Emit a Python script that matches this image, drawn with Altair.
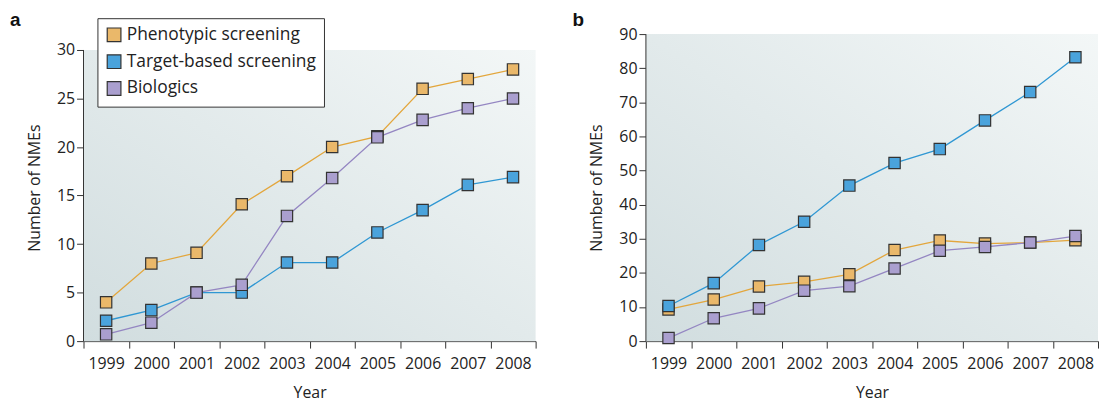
import altair as alt
import pandas as pd

years = [str(y) for y in range(1999, 2009)]
series = ["Phenotypic screening", "Target-based screening", "Biologics"]

# panel a
a_pheno = [4, 8, 9.1, 14.1, 17, 20, 21.1, 26, 27, 28]
a_target = [2.1, 3.2, 5, 5, 8.1, 8.1, 11.2, 13.5, 16.1, 16.9]
a_bio = [0.7, 1.9, 5, 5.8, 12.9, 16.8, 21, 22.8, 24, 25]

# panel b
b_pheno = [9.3, 12.2, 16, 17.4, 19.6, 26.7, 29.5, 28.6, 28.9, 29.6]
b_target = [10.3, 17, 28.2, 35, 45.6, 52.2, 56.3, 64.7, 73, 83.2]
b_bio = [0.9, 6.7, 9.6, 14.8, 16.1, 21.3, 26.5, 27.6, 28.9, 30.8]

line_colors = ["#e3a63c", "#2f97d3", "#9486c2"]
fill_colors = ["#eab86a", "#4aa3dc", "#aa9fcf"]
FONT = "Open Sans"
W, H = 455, 309


def frame(p, t, b):
    rows = []
    for name, vals in zip(series, [p, t, b]):
        for y, v in zip(years, vals):
            rows.append({"year": y, "series": name, "value": v})
    return pd.DataFrame(rows)


def panel(df, label, ytop, ymax, ystep, legend):
    xenc = alt.X("year:O", title="Year",
                 scale=alt.Scale(type="band", paddingInner=0, paddingOuter=0),
                 axis=alt.Axis(tickBand="extent", labelAngle=0, labelPadding=8, titlePadding=13))
    yscale = alt.Scale(domain=[0, ymax], nice=False)
    yaxis = alt.Axis(values=list(range(0, ytop + 1, ystep)), titlePadding=14, domain=False,
                     labelOverlap=False)
    yenc = alt.Y("value:Q", title="Number of NMEs", scale=yscale, axis=yaxis)
    base = alt.Chart(pd.DataFrame({"v": [0]}))
    bg = base.mark_rect(
        color=alt.Gradient(gradient="linear", x1=0, y1=1, x2=1, y2=0,
                           stops=[alt.GradientStop(color="#d1dddf", offset=0),
                                  alt.GradientStop(color="#f3f7f7", offset=1)])
    ).encode(x=alt.value(0), x2=alt.value(W),
             y=alt.Y(datum=ytop, scale=yscale, axis=yaxis, title="Number of NMEs"),
             y2=alt.datum(0))
    yline = base.mark_rule(color="#333", strokeWidth=1).encode(
        x=alt.value(0), y=alt.Y(datum=ytop, scale=yscale, axis=yaxis, title="Number of NMEs"),
        y2=alt.datum(0))
    tag = base.mark_text(text=label, font="Liberation Sans", fontSize=19, fontWeight="bold",
                         align="left", baseline="alphabetic", color="#111").encode(
        x=alt.value(-74), y=alt.value(-8))
    lines = alt.Chart(df).mark_line(strokeWidth=1.3).encode(
        x=xenc, y=yenc,
        color=alt.Color("series:N", scale=alt.Scale(domain=series, range=line_colors), legend=None),
        detail="series:N")
    if legend:
        leg = alt.Legend(title=None, orient="none", legendX=14, legendY=-16,
                         fillColor="white", strokeColor="#333", padding=8, labelLimit=0,
                         labelFont=FONT, labelFontSize=17.5, labelColor="#222",
                         symbolType="square", symbolSize=190, symbolStrokeColor="#333",
                         symbolStrokeWidth=1.2, rowPadding=7)
    else:
        leg = None
    sq = alt.Chart(df).mark_square(size=130, opacity=1, stroke="#333", strokeWidth=1.2).encode(
        x=xenc, y=yenc,
        fill=alt.Fill("series:N", scale=alt.Scale(domain=series, range=fill_colors),
                      **({"legend": leg} if leg else {"legend": None})))
    return alt.layer(bg, yline, tag, lines, sq).resolve_scale(color="independent").properties(
        width=W, height=H)


a = panel(frame(a_pheno, a_target, a_bio), "a", 30, 30 * H / 293, 5, True)
b = panel(frame(b_pheno, b_target, b_bio), "b", 90, 90, 10, False)

chart = alt.hconcat(a, b, spacing=36).resolve_scale(fill="independent").configure_view(
    stroke=None
).configure_axis(
    labelFont=FONT, labelFontSize=16, labelColor="#222", titleFont=FONT, titleFontSize=16,
    titleFontWeight="normal", titleColor="#222", domainColor="#333", tickColor="#333",
    tickSize=7, grid=False
).properties(padding={"left": 2, "top": 2, "right": 0, "bottom": 0})

chart.save("out.html", embed_options={"renderer": "svg", "actions": False})
